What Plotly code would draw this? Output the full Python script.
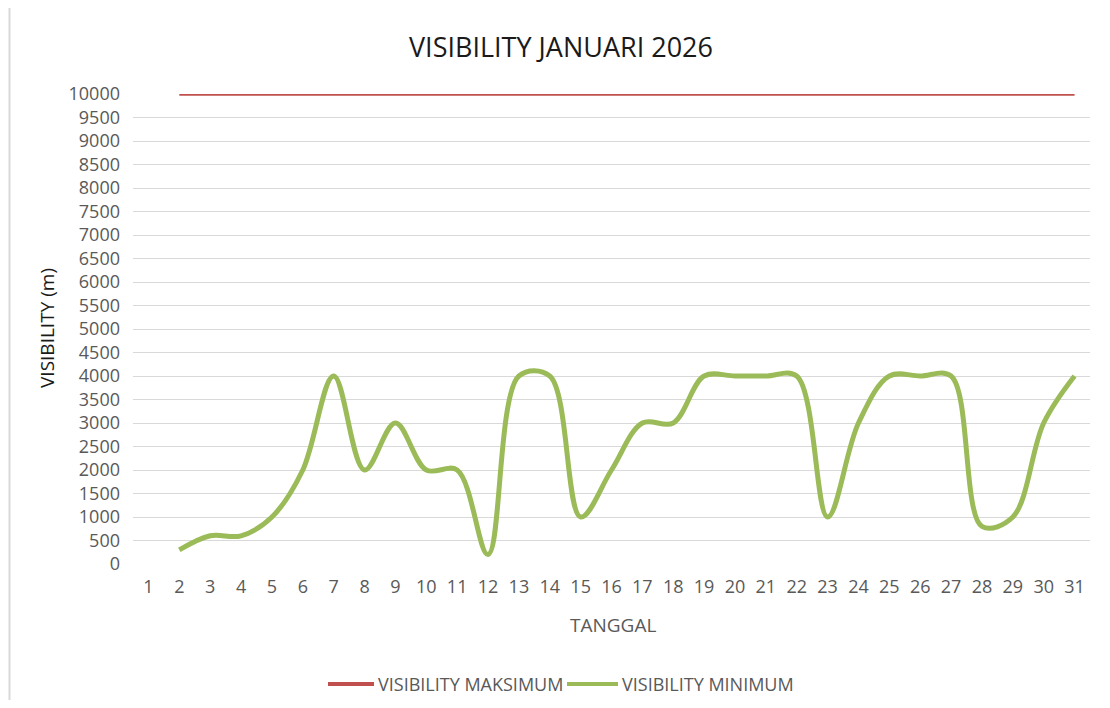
import plotly.graph_objects as go

days = [str(d) for d in range(1, 32)]
vis_max = [None] + [10000] * 30
vis_min = [None, 300, 600, 600, 1000, 2000, 4000, 2000, 3000, 2000, 2000, 200, 4000, 4000,
           1000, 2000, 3000, 3000, 4000, 4000, 4000, 4000, 1000, 3000, 4000, 4000, 4000,
           800, 1000, 3000, 4000]
y_ticks = list(range(0, 10001, 500))
y_ticktext = [str(v) for v in y_ticks]

FONT = "Open Sans"
OFF = 8  # page body margin
W, H = 1110 - 2 * OFF, 708 - 2 * OFF
# plot area in screenshot pixels
PX0, PX1, PY0, PY1 = 133, 1090, 94, 564
L, R, T, B = PX0 - OFF, (W + OFF) - PX1, PY0 - OFF, (H + OFF) - PY1
pw, ph = PX1 - PX0, PY1 - PY0


def fx(px):
    return (px - PX0) / pw


def fy(py):
    return (PY1 - py) / ph


RED, GREEN = "#C0504D", "#9BBB59"

fig = go.Figure()
fig.add_trace(go.Scatter(x=days, y=vis_max, mode="lines", name="VISIBILITY MAKSIMUM",
                         line=dict(color=RED, width=3.5, shape="spline", smoothing=1.0)))
fig.add_trace(go.Scatter(x=days, y=vis_min, mode="lines", name="VISIBILITY MINIMUM",
                         line=dict(color=GREEN, width=5, shape="spline", smoothing=1.0)))

legend_y = fy(684)
fig.update_layout(
    width=W, height=H,
    margin=dict(l=L, r=R, t=T, b=B, autoexpand=False),
    paper_bgcolor="white", plot_bgcolor="white",
    font=dict(family=FONT, color="#595959", size=18),
    showlegend=False,
    xaxis=dict(type="category", categoryorder="array", categoryarray=days,
               range=[-0.5, 30.5], showgrid=False, zeroline=False, showline=False,
               ticks="", ticklabelstandoff=10, tickfont=dict(size=18, color="#595959")),
    yaxis=dict(range=[0, 10000], tickvals=y_ticks, ticktext=y_ticktext, showgrid=True,
               gridcolor="#D9D9D9", gridwidth=1.2, zeroline=False, showline=False, ticks="",
               ticklabelstandoff=12, tickfont=dict(size=18, color="#595959")),
    annotations=[
        dict(text="VISIBILITY JANUARI 2026", xref="paper", yref="paper", x=fx(561), y=fy(46),
             xanchor="center", yanchor="middle", showarrow=False,
             font=dict(family=FONT, size=27, color="#1a1a1a")),
        dict(text="VISIBILITY (m)", xref="paper", yref="paper", x=fx(47),
             y=fy(328), xanchor="center", yanchor="middle", textangle=-90,
             showarrow=False, font=dict(family=FONT, size=19, color="#1a1a1a")),
        dict(text="TANGGAL", xref="paper", yref="paper", x=fx(613),
             y=fy(625), xanchor="center", yanchor="middle",
             showarrow=False, font=dict(family=FONT, size=19, color="#595959")),
        dict(text="VISIBILITY MAKSIMUM", xref="paper", yref="paper", x=fx(376),
             y=legend_y, xanchor="left", yanchor="middle",
             showarrow=False, font=dict(family=FONT, size=18, color="#595959")),
        dict(text="VISIBILITY MINIMUM", xref="paper", yref="paper", x=fx(620),
             y=legend_y, xanchor="left", yanchor="middle",
             showarrow=False, font=dict(family=FONT, size=18, color="#595959")),
    ],
    shapes=[
        dict(type="line", xref="paper", yref="paper", x0=fx(9.5), x1=fx(9.5),
             y0=fy(OFF), y1=fy(H + OFF), line=dict(color="#D9D9D9", width=2)),
        dict(type="line", xref="paper", yref="paper", x0=fx(328), x1=fx(374),
             y0=legend_y, y1=legend_y, line=dict(color=RED, width=4)),
        dict(type="line", xref="paper", yref="paper", x0=fx(567), x1=fx(618),
             y0=legend_y, y1=legend_y, line=dict(color=GREEN, width=4)),
    ],
)

fig.write_html("out.html")
